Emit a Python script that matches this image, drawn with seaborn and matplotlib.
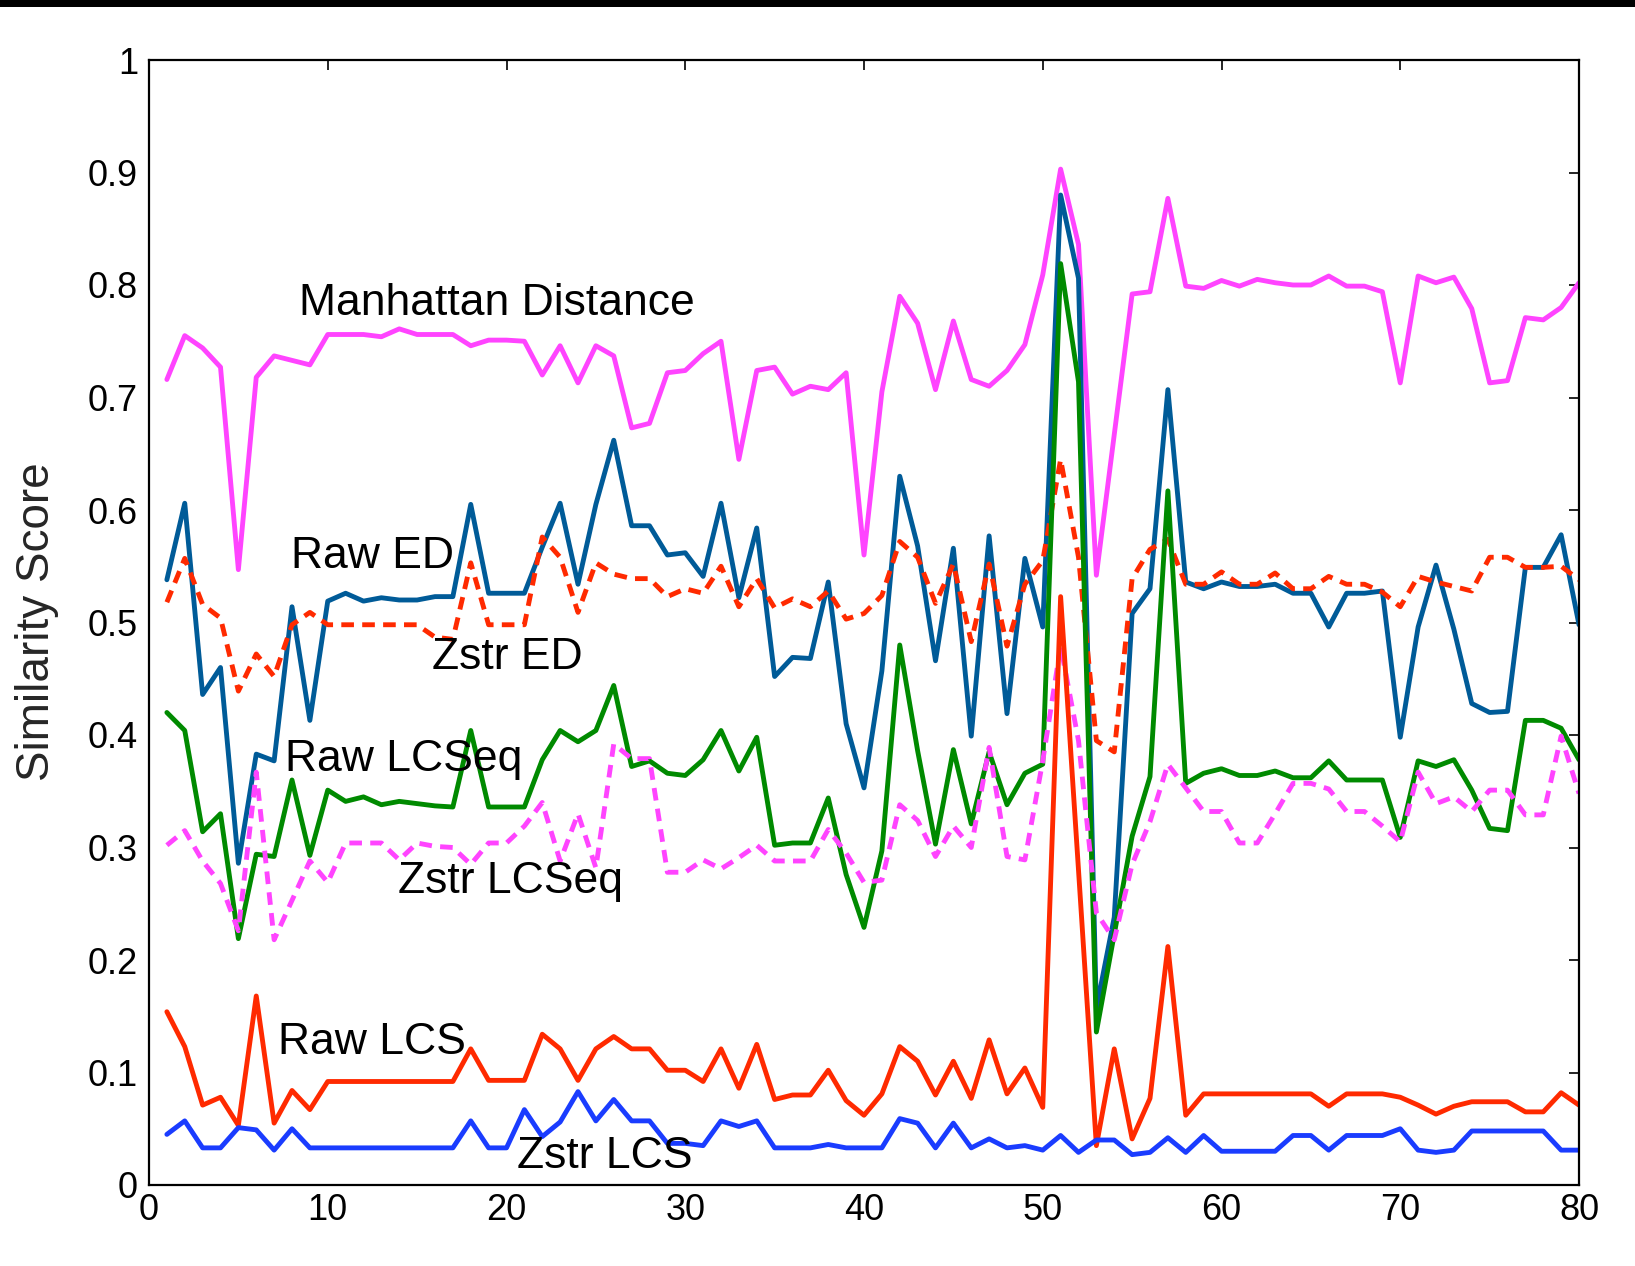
import matplotlib
matplotlib.use("Agg")
import matplotlib.pyplot as plt
import seaborn as sns
import pandas as pd
from matplotlib.patches import Rectangle

# ---------------- data ----------------
x = list(range(1, 81))

manhattan = [
    0.716, 0.755, 0.744, 0.727, 0.547, 0.718, 0.737, 0.733, 0.729, 0.756,
    0.756, 0.756, 0.754, 0.761, 0.756, 0.756, 0.756, 0.746, 0.751, 0.751,
    0.750, 0.720, 0.746, 0.713, 0.746, 0.737, 0.673, 0.677, 0.722, 0.724,
    0.739, 0.750, 0.645, 0.724, 0.727, 0.703, 0.710, 0.707, 0.722, 0.560,
    0.705, 0.790, 0.766, 0.707, 0.768, 0.716, 0.710, 0.724, 0.747, 0.809,
    0.903, 0.836, 0.542, 0.667, 0.792, 0.794, 0.877, 0.799, 0.797, 0.804,
    0.799, 0.805, 0.802, 0.800, 0.800, 0.808, 0.799, 0.799, 0.794, 0.713,
    0.808, 0.802, 0.807, 0.779, 0.713, 0.715, 0.771, 0.769, 0.780, 0.802]

raw_ed = [
    0.538, 0.606, 0.436, 0.460, 0.286, 0.383, 0.377, 0.514, 0.413, 0.519,
    0.526, 0.519, 0.522, 0.520, 0.520, 0.523, 0.523, 0.605, 0.526, 0.526,
    0.526, 0.567, 0.606, 0.534, 0.605, 0.662, 0.586, 0.586, 0.560, 0.562,
    0.541, 0.606, 0.522, 0.584, 0.452, 0.469, 0.468, 0.536, 0.410, 0.353,
    0.457, 0.630, 0.568, 0.466, 0.566, 0.399, 0.577, 0.419, 0.557, 0.496,
    0.880, 0.806, 0.157, 0.238, 0.508, 0.530, 0.707, 0.536, 0.530, 0.536,
    0.532, 0.532, 0.534, 0.526, 0.526, 0.496, 0.526, 0.526, 0.528, 0.398,
    0.496, 0.551, 0.494, 0.428, 0.420, 0.421, 0.549, 0.549, 0.578, 0.498]

zstr_ed = [
    0.518, 0.557, 0.516, 0.504, 0.439, 0.472, 0.452, 0.498, 0.509, 0.498,
    0.498, 0.498, 0.498, 0.498, 0.498, 0.487, 0.485, 0.553, 0.498, 0.498,
    0.498, 0.576, 0.558, 0.509, 0.553, 0.543, 0.539, 0.539, 0.523, 0.530,
    0.526, 0.550, 0.514, 0.539, 0.513, 0.521, 0.514, 0.528, 0.503, 0.508,
    0.524, 0.572, 0.558, 0.517, 0.552, 0.483, 0.552, 0.479, 0.534, 0.555,
    0.645, 0.558, 0.395, 0.385, 0.539, 0.565, 0.574, 0.534, 0.534, 0.545,
    0.534, 0.534, 0.544, 0.530, 0.530, 0.541, 0.534, 0.534, 0.527, 0.514,
    0.541, 0.536, 0.532, 0.528, 0.558, 0.558, 0.549, 0.549, 0.550, 0.538]

raw_lcseq = [
    0.420, 0.404, 0.314, 0.330, 0.219, 0.294, 0.292, 0.360, 0.293, 0.351,
    0.341, 0.345, 0.338, 0.341, 0.339, 0.337, 0.336, 0.404, 0.336, 0.336,
    0.336, 0.378, 0.404, 0.394, 0.404, 0.444, 0.372, 0.377, 0.366, 0.364,
    0.378, 0.404, 0.368, 0.398, 0.302, 0.304, 0.304, 0.344, 0.276, 0.229,
    0.297, 0.480, 0.386, 0.303, 0.387, 0.321, 0.385, 0.338, 0.366, 0.374,
    0.819, 0.714, 0.136, 0.223, 0.310, 0.363, 0.617, 0.357, 0.366, 0.370,
    0.364, 0.364, 0.368, 0.362, 0.362, 0.377, 0.360, 0.360, 0.360, 0.309,
    0.377, 0.372, 0.378, 0.351, 0.317, 0.315, 0.413, 0.413, 0.406, 0.378]

zstr_lcseq = [
    0.302, 0.315, 0.288, 0.268, 0.226, 0.367, 0.218, 0.253, 0.288, 0.269,
    0.304, 0.304, 0.304, 0.289, 0.304, 0.301, 0.300, 0.285, 0.304, 0.304,
    0.319, 0.340, 0.288, 0.330, 0.282, 0.392, 0.379, 0.379, 0.278, 0.278,
    0.289, 0.281, 0.291, 0.302, 0.288, 0.288, 0.288, 0.316, 0.295, 0.269,
    0.271, 0.338, 0.324, 0.292, 0.319, 0.300, 0.389, 0.292, 0.289, 0.377,
    0.479, 0.395, 0.242, 0.218, 0.285, 0.323, 0.374, 0.353, 0.332, 0.332,
    0.304, 0.304, 0.330, 0.357, 0.357, 0.352, 0.332, 0.332, 0.319, 0.305,
    0.367, 0.339, 0.345, 0.332, 0.351, 0.351, 0.329, 0.329, 0.399, 0.348]

raw_lcs = [
    0.154, 0.123, 0.071, 0.078, 0.053, 0.168, 0.055, 0.084, 0.067, 0.092,
    0.092, 0.092, 0.092, 0.092, 0.092, 0.092, 0.092, 0.121, 0.093, 0.093,
    0.093, 0.134, 0.121, 0.093, 0.121, 0.132, 0.121, 0.121, 0.102, 0.102,
    0.092, 0.121, 0.086, 0.125, 0.076, 0.080, 0.080, 0.102, 0.075, 0.062,
    0.081, 0.123, 0.110, 0.080, 0.110, 0.077, 0.129, 0.081, 0.104, 0.069,
    0.523, 0.280, 0.035, 0.121, 0.041, 0.077, 0.212, 0.062, 0.081, 0.081,
    0.081, 0.081, 0.081, 0.081, 0.081, 0.070, 0.081, 0.081, 0.081, 0.078,
    0.071, 0.063, 0.070, 0.074, 0.074, 0.074, 0.065, 0.065, 0.082, 0.071]

zstr_lcs = [
    0.045, 0.057, 0.033, 0.033, 0.051, 0.049, 0.031, 0.050, 0.033, 0.033,
    0.033, 0.033, 0.033, 0.033, 0.033, 0.033, 0.033, 0.057, 0.033, 0.033,
    0.067, 0.043, 0.056, 0.083, 0.057, 0.076, 0.057, 0.057, 0.037, 0.037,
    0.035, 0.057, 0.052, 0.057, 0.033, 0.033, 0.033, 0.036, 0.033, 0.033,
    0.033, 0.059, 0.055, 0.033, 0.055, 0.033, 0.041, 0.033, 0.035, 0.031,
    0.044, 0.029, 0.040, 0.040, 0.027, 0.029, 0.042, 0.029, 0.044, 0.030,
    0.030, 0.030, 0.030, 0.044, 0.044, 0.031, 0.044, 0.044, 0.044, 0.050,
    0.031, 0.029, 0.031, 0.048, 0.048, 0.048, 0.048, 0.048, 0.031, 0.031]

series_names = ["Manhattan Distance", "Raw ED", "Zstr ED", "Raw LCSeq",
                "Zstr LCSeq", "Raw LCS", "Zstr LCS"]
series_values = [manhattan, raw_ed, zstr_ed, raw_lcseq, zstr_lcseq, raw_lcs, zstr_lcs]

x_ticks = [0, 10, 20, 30, 40, 50, 60, 70, 80]
y_ticks = [0, 0.1, 0.2, 0.3, 0.4, 0.5, 0.6, 0.7, 0.8, 0.9, 1.0]
y_tick_labels = ["0", "0.1", "0.2", "0.3", "0.4", "0.5", "0.6", "0.7", "0.8", "0.9", "1"]
y_label = "Similarity Score"

# ---------------- style ----------------
colors = {
    "Manhattan Distance": "#ff44ff",
    "Raw ED": "#005b98",
    "Zstr ED": "#ff2a00",
    "Raw LCSeq": "#008a00",
    "Zstr LCSeq": "#ff44ff",
    "Raw LCS": "#ff2a00",
    "Zstr LCS": "#1a3cff",
}
dot = (2.6, 1.7)
dash_map = {
    "Manhattan Distance": "",
    "Raw ED": "",
    "Zstr ED": dot,
    "Raw LCSeq": "",
    "Zstr LCSeq": dot,
    "Raw LCS": "",
    "Zstr LCS": "",
}

sns.set_style("white")
plt.rcParams.update({
    "font.family": ["Liberation Sans", "DejaVu Sans"],
    "xtick.direction": "in",
    "ytick.direction": "in",
    "xtick.top": True,
    "ytick.right": True,
    "xtick.major.size": 7,
    "ytick.major.size": 7,
    "xtick.major.width": 1.2,
    "ytick.major.width": 1.2,
    "axes.edgecolor": "black",
    "axes.linewidth": 1.6,
})

rows = []
for name, vals in zip(series_names, series_values):
    for xi, v in zip(x, vals):
        rows.append({"x": xi, "score": v, "series": name})
df = pd.DataFrame(rows)

W, H = 1635, 1266
fig = plt.figure(figsize=(W / 100, H / 100), dpi=100)
ax = fig.add_axes([149 / W, 1 - 1185 / H, (1579 - 149) / W, (1185 - 60) / H])

sns.lineplot(data=df, x="x", y="score", hue="series", style="series",
             hue_order=series_names, style_order=series_names,
             palette=colors, dashes=dash_map, linewidth=3.5,
             legend=False, ax=ax, sort=False, estimator=None)

ax.set_xlim(0, 80)
ax.set_ylim(0, 1)
ax.set_xticks(x_ticks)
ax.set_xticklabels([str(t) for t in x_ticks])
ax.set_yticks(y_ticks)
ax.set_yticklabels(y_tick_labels)
ax.tick_params(axis="both", labelsize=26, colors="black")
ax.tick_params(axis="x", pad=6)
ax.tick_params(axis="y", pad=8)
ax.set_xlabel("")
ax.set_ylabel("")
for s in ax.spines.values():
    s.set_visible(True)
    s.set_color("black")
    s.set_linewidth(1.6)

fig.text(37 / W, 1 - 622 / H, y_label, rotation=90, ha="center", va="center",
         fontsize=33)

# series annotations (left x, baseline y in data units)
annotations = [
    ("Manhattan Distance", 8.40, 0.773),
    ("Raw ED", 7.93, 0.548),
    ("Zstr ED", 15.85, 0.459),
    ("Raw LCSeq", 7.60, 0.368),
    ("Zstr LCSeq", 13.95, 0.260),
    ("Raw LCS", 7.24, 0.1165),
    ("Zstr LCS", 20.57, 0.0147),
]
for txt, tx, ty in annotations:
    ax.text(tx, ty, txt, ha="left", va="baseline", fontsize=32, color="black")

# black band along the top edge
fig.patches.append(Rectangle((0, 1 - 7 / H), 1, 7 / H, transform=fig.transFigure,
                             facecolor="black", edgecolor="none"))

fig.savefig("out.png", dpi=100, facecolor="white")
